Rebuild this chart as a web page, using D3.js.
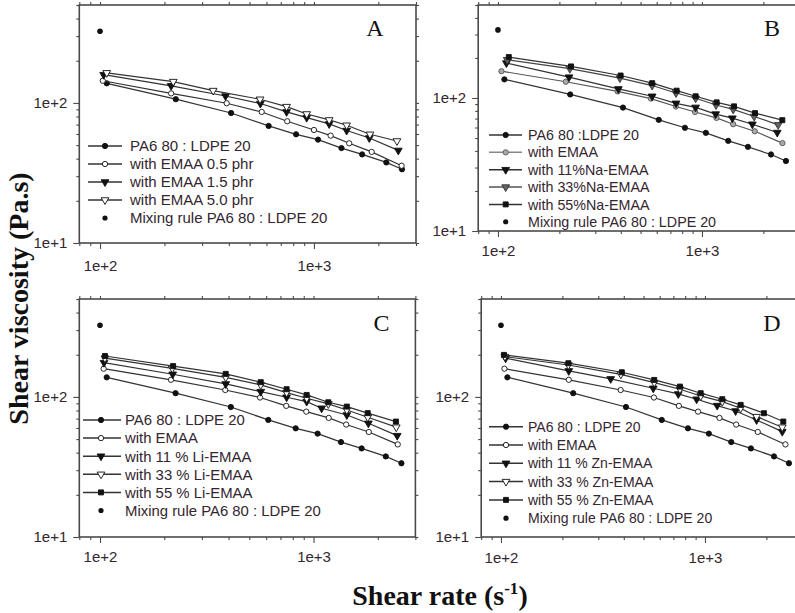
<!DOCTYPE html>
<html><head><meta charset="utf-8">
<script src="https://cdn.jsdelivr.net/npm/d3@7/dist/d3.min.js"></script>
<style>body{margin:0;background:#fff}svg{display:block}</style>
</head><body>
<svg id="c" width="795" height="613"></svg>
<script>
// ---------- data (shear rate in 1/s, viscosity in Pa.s) ----------
const shearBase = [107.5, 226, 410, 614, 825, 1045, 1345, 1680, 2180, 2580];
const viscBase  = [138, 106.3, 84.7, 68.5, 59.7, 54.7, 47.6, 42.9, 37.6, 33.6];
const shearEmaa = [104, 215, 386, 562, 745, 925, 1178, 1422, 1815, 2480];
const viscEmaa  = [159, 132.5, 112, 99, 86.3, 78.5, 70.8, 63.5, 56.2, 45.8];
const shearEmaa05 = [103, 215, 391, 570, 750, 1000, 1197, 1462, 1862, 2570];
const viscEmaa05  = [144, 117, 99.5, 86.2, 74, 64.1, 58.4, 51.5, 44.7, 35.6];
const shearEmaa50 = [107.5, 220, 338, 560, 745, 925, 1178, 1422, 1828, 2444];
const viscEmaa50  = [164, 142, 122.5, 106.2, 94.1, 83.4, 75.6, 69.3, 59.7, 53.5];
const shearNa11 = [110, 223, 389, 570, 746, 931, 1167, 1409, 1766, 2339];
const viscNa11  = [183, 143.5, 117, 103, 91.2, 85, 75.7, 70.5, 63.5, 55];
const shearNa33 = [111, 225, 396, 570, 746, 931, 1172, 1423, 1803, 2364];
const viscNa33  = [194, 166, 141, 124, 109, 99.5, 88.5, 82, 72.6, 62.8];
const shearNa55 = [113, 228, 399, 570, 751, 931, 1180, 1436, 1820, 2477];
const viscNa55  = [203, 172.6, 147.5, 129.2, 113.5, 103, 92.7, 86.5, 76.9, 68.1];
const shearLi11 = [104.4, 219, 388, 566, 748, 929, 1091, 1432, 1807, 2466];
const viscLi11  = [175.6, 145.2, 123.8, 109.1, 99.5, 92.6, 83, 74.3, 64.8, 52.9];
const shearLi33 = [105.5, 218, 388, 566, 748, 929, 1173, 1432, 1794, 2440];
const viscLi33  = [189, 160, 138, 121.8, 107.4, 97.9, 89.1, 80.7, 71.6, 60.8];
const shearLi55 = [105.5, 220, 388, 566, 748, 929, 1173, 1432, 1794, 2432];
const viscLi55  = [196, 166, 146, 127.4, 113.5, 103.3, 91.6, 85.3, 76.6, 66.7];
const shearZn11 = [105.4, 215, 345, 558, 740, 910, 1148, 1413, 1791, 2393];
const viscZn11  = [189, 153.4, 134.5, 115.3, 105, 96.3, 86.7, 79.4, 68.5, 56.5];
const shearZn33 = [104.6, 214, 387, 564, 754, 953, 1216, 1496, 1791, 2393];
const viscZn33  = [194, 169, 145, 126.6, 113.5, 101.6, 92.5, 83, 72.3, 60.8];
const shearZn55 = [103.4, 214, 391, 564, 754, 953, 1216, 1496, 1945, 2421];
const viscZn55  = [199.5, 174, 150, 132.2, 118.5, 106.3, 96.3, 87.7, 76.5, 66.7];
const mixShear = [100];
const mixVisc  = [325];

const labelsA = ["PA6 80 : LDPE 20", "with EMAA 0.5 phr", "with EMAA 1.5 phr", "with EMAA 5.0 phr", "Mixing rule PA6 80 : LDPE 20"];
const labelsB = ["PA6 80 :LDPE 20", "with EMAA", "with 11%Na-EMAA", "with 33%Na-EMAA", "with 55%Na-EMAA", "Mixing rule PA6 80 : LDPE 20"];
const labelsC = ["PA6 80 : LDPE 20", "with EMAA", "with 11 % Li-EMAA", "with 33 % Li-EMAA", "with 55 % Li-EMAA", "Mixing rule PA6 80 : LDPE 20"];
const labelsD = ["PA6 80 : LDPE 20", "with EMAA", "with 11 % Zn-EMAA", "with 33 % Zn-EMAA", "with 55 % Zn-EMAA", "Mixing rule PA6 80 : LDPE 20"];
const panelLetters = ["A", "B", "C", "D"];

const xDomain = [80, 3000];
const yDomain = [10, 500];
const xMajor = [100, 1000];
const xMinor = [80, 90, 200, 300, 400, 500, 600, 700, 800, 900, 2000, 3000];
const yMajor = [10, 100];
const yMinor = [20, 30, 40, 50, 60, 70, 80, 90, 200, 300, 400, 500];

// ---------- styles ----------
const S = {
  base:   {sym: 'circle', fill: '#111', stroke: '#111', line: '#333'},
  open:   {sym: 'circle', fill: '#fff', stroke: '#111', line: '#333'},
  grayC:  {sym: 'circle', fill: '#aaa', stroke: '#555', line: '#555', legLine: '#888'},
  triF:   {sym: 'tri', fill: '#111', stroke: '#111', line: '#333'},
  triO:   {sym: 'tri', fill: '#fff', stroke: '#111', line: '#333'},
  triG:   {sym: 'tri', fill: '#666', stroke: '#333', line: '#444', legLine: '#555'},
  sq:     {sym: 'square', fill: '#111', stroke: '#111', line: '#333'}
};

const panels = [
  {letter: panelLetters[0], xr: [79.3, 416], yr: [243, 5], lab: [375, 36], labelDy: 23,
   leg: {y0: 146, dy: 18, lx0: 88, lx1: 122, mx: 105, tx: 130, fs: 15}, labels: labelsA,
   series: [[shearBase, viscBase, S.base], [shearEmaa05, viscEmaa05, S.open], [shearEmaa, viscEmaa, S.triF], [shearEmaa50, viscEmaa50, S.triO]]},
  {letter: panelLetters[1], xr: [478.2, 799.3], yr: [231, 5], lab: [772, 36], labelDy: 20,
   leg: {y0: 135, dy: 17.35, lx0: 489, lx1: 522, mx: 505.7, tx: 528, fs: 14.3}, labels: labelsB,
   series: [[shearBase, viscBase, S.base], [shearEmaa, viscEmaa, S.grayC], [shearNa11, viscNa11, S.triF], [shearNa33, viscNa33, S.triG], [shearNa55, viscNa55, S.sq]]},
  {letter: panelLetters[2], xr: [79.3, 415.4], yr: [537, 299], lab: [381.5, 331], labelDy: 20,
   leg: {y0: 420, dy: 18.1, lx0: 83, lx1: 121, mx: 101, tx: 125, fs: 14.9}, labels: labelsC,
   series: [[shearBase, viscBase, S.base], [shearEmaa, viscEmaa, S.open], [shearLi11, viscLi11, S.triF], [shearLi33, viscLi33, S.triO], [shearLi55, viscLi55, S.sq]]},
  {letter: panelLetters[3], xr: [481.2, 802.3], yr: [537, 299], lab: [772, 331], labelDy: 21,
   leg: {y0: 426.7, dy: 18.3, lx0: 489, lx1: 523, mx: 506, tx: 528, fs: 14}, labels: labelsD,
   series: [[shearBase, viscBase, S.base], [shearEmaa, viscEmaa, S.open], [shearZn11, viscZn11, S.triF], [shearZn33, viscZn33, S.triO], [shearZn55, viscZn55, S.sq]]}
];

const svg = d3.select('#c');
const sansFont = '"Liberation Sans", Arial, Helvetica, sans-serif';
const serifFont = '"Liberation Serif", "Times New Roman", Times, serif';
const textCol = '#33262f';
const frameCol = '#4a4a4a';

function symPath(type) {
  if (type === 'circle') return d3.symbol().type(d3.symbolCircle).size(22)();
  if (type === 'square') return d3.symbol().type(d3.symbolSquare).size(25)();
  return d3.symbol().type(d3.symbolTriangle).size(26)();
}
function drawMarker(g, cx, cy, st) {
  g.append('path').attr('d', symPath(st.sym))
    .attr('transform', `translate(${cx},${cy})` + (st.sym === 'tri' ? ' rotate(180)' : ''))
    .attr('fill', st.fill).attr('stroke', st.stroke).attr('stroke-width', 0.9);
}

panels.forEach(p => {
  const x = d3.scaleLog().domain(xDomain).range(p.xr);
  const y = d3.scaleLog().domain(yDomain).range(p.yr);
  const g = svg.append('g');
  const fmt = d => '1e+' + Math.round(Math.log10(d));

  // frame
  g.append('rect').attr('x', p.xr[0]).attr('y', p.yr[1])
    .attr('width', p.xr[1] - p.xr[0]).attr('height', p.yr[0] - p.yr[1])
    .attr('fill', 'none').attr('stroke', frameCol).attr('stroke-width', 1.6);

  const styleAxis = (sel) => {
    sel.select('.domain').remove();
    sel.selectAll('line').attr('stroke', frameCol).attr('stroke-width', 1.1);
    sel.selectAll('text').attr('font-family', sansFont).attr('font-size', 15).attr('fill', textCol);
  };
  // bottom
  g.append('g').attr('transform', `translate(0,${p.yr[0]})`)
    .call(d3.axisBottom(x).tickValues(xMajor).tickFormat(fmt).tickSize(6).tickPadding(p.labelDy - 12)).call(styleAxis);
  g.append('g').attr('transform', `translate(0,${p.yr[0]})`)
    .call(d3.axisBottom(x).tickValues(xMinor).tickFormat('').tickSize(3)).call(styleAxis);
  // top
  g.append('g').attr('transform', `translate(0,${p.yr[1]})`)
    .call(d3.axisTop(x).tickValues(xMajor.concat(xMinor)).tickFormat('').tickSize(3)).call(styleAxis);
  // left
  g.append('g').attr('transform', `translate(${p.xr[0]},0)`)
    .call(d3.axisLeft(y).tickValues(yMajor).tickFormat(fmt).tickSize(6).tickPadding(6)).call(styleAxis);
  g.append('g').attr('transform', `translate(${p.xr[0]},0)`)
    .call(d3.axisLeft(y).tickValues(yMinor).tickFormat('').tickSize(3)).call(styleAxis);
  // right
  g.append('g').attr('transform', `translate(${p.xr[1]},0)`)
    .call(d3.axisRight(y).tickValues(yMajor.concat(yMinor)).tickFormat('').tickSize(3)).call(styleAxis);

  // series
  const line = d3.line().x(d => x(d[0])).y(d => y(d[1]));
  p.series.forEach(([xs, ys, st]) => {
    const pts = xs.map((v, i) => [v, ys[i]]);
    g.append('path').attr('d', line(pts)).attr('fill', 'none')
      .attr('stroke', st.line).attr('stroke-width', 1.2);
    pts.forEach(d => drawMarker(g, x(d[0]), y(d[1]), st));
  });
  // mixing rule point
  mixShear.forEach((v, i) => {
    g.append('circle').attr('cx', x(v)).attr('cy', y(mixVisc[i])).attr('r', 2.8).attr('fill', '#111');
  });

  // legend
  const L = p.leg;
  p.labels.forEach((txt, i) => {
    const yy = L.y0 + i * L.dy;
    const isMix = i === p.labels.length - 1;
    if (!isMix) {
      const st = p.series[i][2];
      g.append('line').attr('x1', L.lx0).attr('x2', L.lx1).attr('y1', yy).attr('y2', yy)
        .attr('stroke', st.legLine || st.line).attr('stroke-width', 1.5);
      drawMarker(g, L.mx, yy, st);
    } else {
      g.append('circle').attr('cx', L.mx).attr('cy', yy).attr('r', 2.6).attr('fill', '#111');
    }
    g.append('text').attr('x', L.tx).attr('y', yy).attr('dy', '0.36em')
      .attr('font-family', sansFont).attr('font-size', L.fs).attr('fill', textCol).text(txt);
  });

  // panel letter
  g.append('text').attr('x', p.lab[0]).attr('y', p.lab[1]).attr('text-anchor', 'middle')
    .attr('font-family', serifFont).attr('font-size', 24).attr('fill', '#111').text(p.letter);
});

// axis titles
svg.append('text').attr('transform', 'translate(28,298.5) rotate(-90)').attr('text-anchor', 'middle')
  .attr('font-family', serifFont).attr('font-weight', 'bold').attr('font-size', 28).attr('fill', '#111')
  .text('Shear viscosity (Pa.s)');
const xt = svg.append('text').attr('x', 440).attr('y', 605).attr('text-anchor', 'middle')
  .attr('font-family', serifFont).attr('font-weight', 'bold').attr('font-size', 28).attr('fill', '#111');
xt.append('tspan').text('Shear rate (s');
xt.append('tspan').attr('font-size', 17).attr('dy', -11).text('-1');
xt.append('tspan').attr('dy', 11).text(')');
</script>
</body></html>
